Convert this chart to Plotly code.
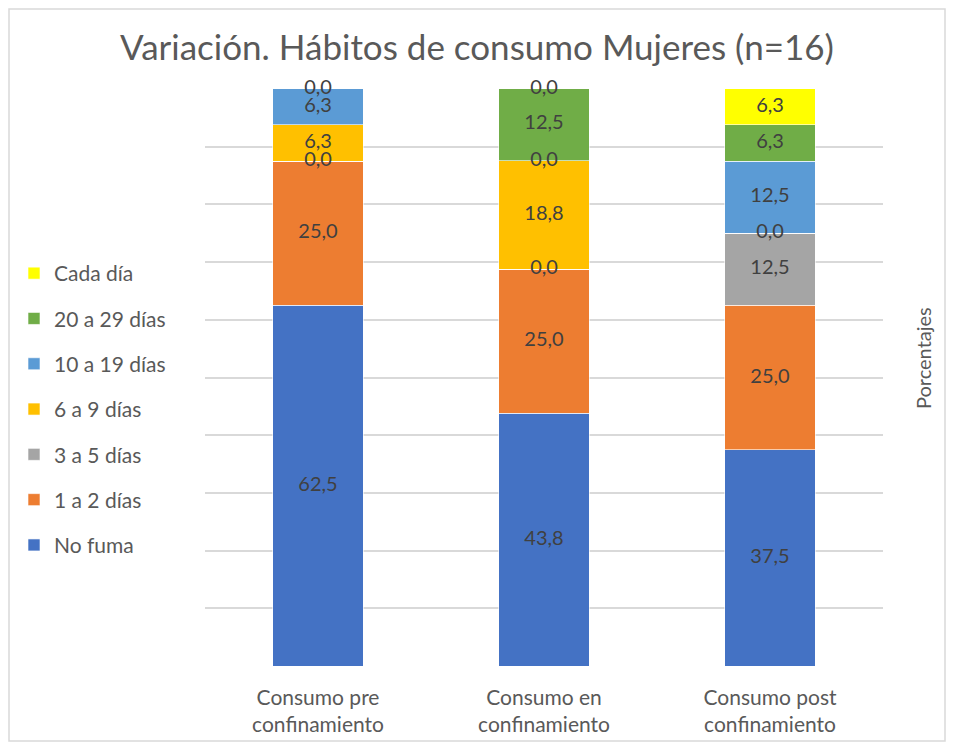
import plotly.graph_objects as go

# ───────── data (percentages, n=16) ─────────
categories = ["Consumo pre<br>confinamiento", "Consumo en<br>confinamiento", "Consumo post<br>confinamiento"]

series_names = ["No fuma", "1 a 2 días", "3 a 5 días", "6 a 9 días",
                "10 a 19 días", "20 a 29 días", "Cada día"]

no_fuma = [62.5, 43.8, 37.5]
uno_dos = [25.0, 25.0, 25.0]
tres_cinco = [0.0, 0.0, 12.5]
seis_nueve = [6.3, 18.8, 0.0]
diez_diecinueve = [6.3, 0.0, 12.5]
veinte_veintinueve = [0.0, 12.5, 6.3]
cada_dia = [None, 0.0, 6.3]

series_values = [no_fuma, uno_dos, tres_cinco, seis_nueve,
                 diez_diecinueve, veinte_veintinueve, cada_dia]

colors = ["#4472C4", "#ED7D31", "#A5A5A5", "#FFC000", "#5B9BD5", "#70AD47", "#FFFF00"]

# the page body adds an 8px margin, so the figure is 16px smaller than the window
W, H = 938, 734
M = dict(l=197, r=63, t=81, b=76)
FONT = "Lato, 'Open Sans', sans-serif"
pw = W - M["l"] - M["r"]
ph = H - M["t"] - M["b"]

fig = go.Figure()

# ── stacked bars ──
n = len(series_names)
for i, (name, vals, col) in enumerate(zip(series_names, series_values, colors)):
    fig.add_trace(go.Bar(
        x=categories, y=[v if v is not None else 0 for v in vals],
        name=name, marker=dict(color=col, line=dict(color="white", width=0.6)),
        legendgroup=name, legendrank=n - i, hoverinfo="skip",
    ))

# ── data labels at segment mid-points (zero segments too, like Excel) ──
lab_x, lab_y, lab_t = [], [], []
for i, cat in enumerate(categories):
    base = 0.0
    for vals in series_values:
        v = vals[i]
        if v is None:
            continue
        lab_x.append(cat)
        lab_y.append(min(base + v / 2, 100))   # rounding pushes sums to 100.1
        lab_t.append(f"{v:.1f}".replace(".", ","))
        base += v
fig.add_trace(go.Scatter(
    x=lab_x, y=lab_y, text=lab_t, mode="text",
    textfont=dict(family=FONT, size=20, color="#404040"),
    showlegend=False, hoverinfo="skip", cliponaxis=False,
))

# ── layout ──
fig.update_layout(
    width=W, height=H,
    barmode="stack", bargap=0.6,
    paper_bgcolor="white", plot_bgcolor="white",
    margin=M,
    font=dict(family=FONT, color="#595959", size=21),
    title=dict(text="Variación. Hábitos de consumo Mujeres (n=16)",
               x=0.5, xref="container", y=1 - 40 / H, yref="container",
               yanchor="middle", font=dict(size=35, color="#595959")),
    legend=dict(
        x=6 / W, xref="container", xanchor="left",
        y=1 - 245 / H, yref="container", yanchor="top",
        traceorder="grouped", tracegroupgap=15,
        font=dict(size=21, color="#595959"), itemwidth=30,
    ),
    showlegend=True,
)

fig.update_xaxes(showgrid=False, showline=False, ticks="", automargin=False,
                 ticklabelstandoff=17,
                 tickfont=dict(size=21, color="#595959"))
fig.update_yaxes(range=[0, 100], dtick=10, showticklabels=False,
                 gridcolor="#D9D9D9", gridwidth=1.5, zeroline=False,
                 showline=False, ticks="")

# y axis title on the right
fig.add_annotation(text="Porcentajes", textangle=-90,
                   xref="paper", x=1, xshift=40, xanchor="center",
                   yref="paper", y=(H - M["b"] - 350) / ph, yanchor="middle",
                   showarrow=False, font=dict(size=20, color="#595959"))

# chart-area border
fig.add_shape(type="rect", xref="paper", yref="paper",
              x0=-(M["l"] - 1) / pw, x1=1 + (M["r"] - 1) / pw,
              y0=-(M["b"] - 1) / ph, y1=1 + (M["t"] - 1) / ph,
              line=dict(color="#D9D9D9", width=1.5), layer="below")

fig.write_html("out.html")
